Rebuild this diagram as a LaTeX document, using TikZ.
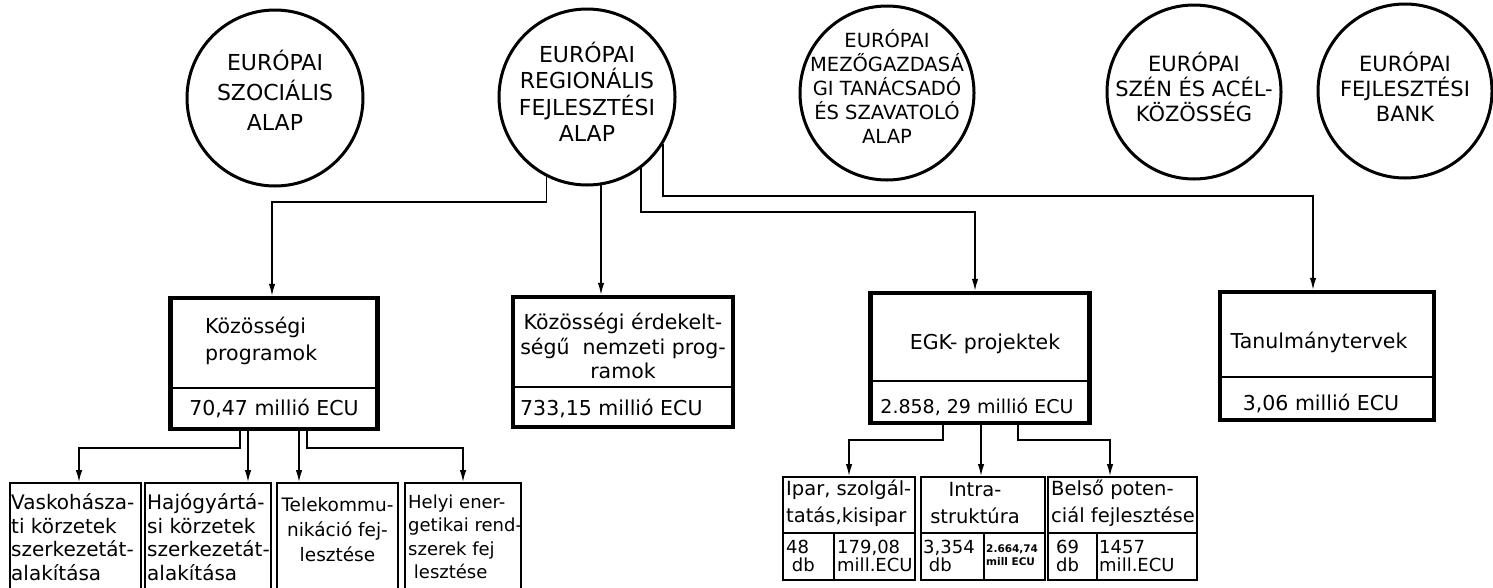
\documentclass[tikz,border=0pt]{standalone}
\usepackage{fontspec}
\setmainfont{DejaVu Sans}
\usetikzlibrary{arrows.meta}
\begin{document}
\begin{tikzpicture}[x=1pt,y=-1pt,
  fund/.style={draw, circle, line width=3pt, minimum size=176pt, inner sep=0pt},
  ctext/.style={align=center, inner sep=0pt},
  mainbox/.style={draw, line width=4.5pt, inner sep=0pt},
  smallbox/.style={draw, line width=2pt, inner sep=0pt, minimum height=112pt},
  rbox/.style={draw, line width=2pt, inner sep=0pt, minimum height=103pt},
  divider/.style={line width=1.5pt},
  conn/.style={draw, line width=1.4pt, -{Latex[length=12pt,width=6.5pt]}},
  btext/.style={inner sep=0pt, font=\fontsize{20.5}{27}\selectfont},
  stext/.style={inner sep=0pt, align=left},
  rtext/.style={inner sep=0pt, align=left, font=\fontsize{19.5}{27}\selectfont},
  ntext/.style={inner sep=0pt, align=left, font=\fontsize{18}{18.5}\selectfont},
]
\useasboundingbox (0,0) rectangle (1493,587);

% funds (circles)
\node[fund] (c1) at (275,98) {};
\node[fund] (c2) at (587,97) {};
\node[fund, minimum size=174pt] (c3) at (887,93) {};
\node[fund, minimum size=174pt] (c4) at (1194,92) {};
\node[fund, minimum size=174pt] (c5) at (1405,91) {};

\node[ctext, font=\fontsize{22}{30}\selectfont] (t1) at (275,90) {EURÓPAI\\SZOCIÁLIS\\ALAP};
\node[ctext, font=\fontsize{22}{26.5}\selectfont] (t2) at (587,92) {EURÓPAI\\REGIONÁLIS\\FEJLESZTÉSI\\ALAP};
\node[ctext, font=\fontsize{19.5}{24}\selectfont] (t3) at (887,86) {EURÓPAI\\MEZŐGAZDASÁ\\GI TANÁCSADÓ\\ÉS SZAVATOLÓ\\ALAP};
\node[ctext, font=\fontsize{21}{25}\selectfont] (t4) at (1194,87) {EURÓPAI\\SZÉN ÉS ACÉL-\\KÖZÖSSÉG};
\node[ctext, font=\fontsize{21}{25}\selectfont] (t5) at (1405,87) {EURÓPAI\\FEJLESZTÉSI\\BANK};

% main boxes
\node[mainbox, minimum width=207pt, minimum height=131pt] (kp) at (274,363.5) {};
\draw[divider] (kp.west |- 0,388) -- (kp.east |- 0,388);
\node[btext, align=left, anchor=west] (kpt) at (205,341) {Közösségi\\programok};
\node[btext] (kpv) at (274,408) {70,47 millió ECU};

\node[mainbox, minimum width=220pt, minimum height=130pt] (ke) at (623,362) {};
\draw[divider] (ke.west |- 0,387) -- (ke.east |- 0,387);
\node[btext, align=center, font=\fontsize{20.5}{24.5}\selectfont] (ket) at (623,346) {Közösségi érdekelt-\\ségű\ \ nemzeti prog-\\ramok};
\node[btext, anchor=west] (kev) at (520,408) {733,15 millió ECU};

\node[mainbox, minimum width=219pt, minimum height=130pt] (egk) at (980,358) {};
\draw[divider] (egk.west |- 0,381) -- (egk.east |- 0,381);
\node[btext] (egkt) at (985,344) {EGK- projektek};
\node[btext, font=\fontsize{19}{24}\selectfont] (egkv) at (977,407) {2.858, 29 millió ECU};

\node[mainbox, minimum width=214pt, minimum height=128pt] (tan) at (1327,356) {};
\draw[divider] (tan.west |- 0,377) -- (tan.east |- 0,377);
\node[btext] (tant) at (1319,342) {Tanulmánytervek};
\node[btext] (tanv) at (1321,403) {3,06 millió ECU};

% bottom-left boxes (cut off by the lower edge)
\node[smallbox, minimum width=131pt] (b1) at (75,539) {};
\node[smallbox, minimum width=126pt] (b2) at (208,539) {};
\node[smallbox, minimum width=121pt] (b3) at (337.5,539) {};
\node[smallbox, minimum width=116pt] (b4) at (463,539) {};
\node[stext, anchor=west, font=\fontsize{20}{23.5}\selectfont] (b1t) at (11,537) {Vaskohásza-\\ti körzetek\\szerkezetát-\\alakítása};
\node[stext, anchor=west, font=\fontsize{20}{23.5}\selectfont] (b2t) at (147,537) {Hajógyártá-\\si körzetek\\szerkezetát-\\alakítása};
\node[stext, align=center, font=\fontsize{18.5}{25}\selectfont] (b3t) at (337.5,530) {Telekommu-\\nikáció fej-\\lesztése};
\node[stext, anchor=west, font=\fontsize{18}{23.5}\selectfont] (b4t) at (408,537) {Helyi ener-\\getikai rend-\\szerek fej\\\ lesztése};

% bottom-right boxes
\node[rbox, minimum width=132pt] (ba) at (849,528.5) {};
\node[rbox, minimum width=124pt] (bb) at (983,528.5) {};
\node[rbox, minimum width=149pt] (bc) at (1122.5,528.5) {};
\draw[divider] (ba.west |- 0,533) -- (ba.east |- 0,533);
\draw[divider] (bb.west |- 0,533) -- (bb.east |- 0,533);
\draw[divider] (bc.west |- 0,533) -- (bc.east |- 0,533);
\draw[divider] (ba.south -| 834,0) -- (834,533);
\draw[divider] (bb.south -| 984,0) -- (984,533);
\draw[divider] (bc.south -| 1097,0) -- (1097,533);

\node[rtext, anchor=west] (bat) at (786,503) {Ipar, szolgál-\\tatás,kisipar};
\node[rtext, align=center] (bbt) at (975,503) {Intra-\\struktúra};
\node[rtext, anchor=west] (bct) at (1051,503) {Belső poten-\\ciál fejlesztése};
\node[ntext, anchor=west] (ban) at (786,556) {48\\\ db};
\node[ntext, anchor=west] (bav) at (837,556) {179,08\\mill.ECU};
\node[ntext, anchor=west] (bbn) at (923,556) {3,354\\\ db};
\node[inner sep=0pt, align=left, anchor=west, font=\bfseries\fontsize{10.5}{13}\selectfont] (bbv) at (986,555) {2.664,74\\mill ECU};
\node[ntext, anchor=west] (bcn) at (1056,556) {69\\db};
\node[ntext, anchor=west] (bcv) at (1099,556) {1457\\mill.ECU};

% connectors from ERFA
\coordinate (h1) at (272,202);
\coordinate (h3) at (975,212);
\coordinate (h4) at (1313,196);
\draw[conn] (c2.243) |- (h1) -- (h1 |- kp.north);
\draw[conn] (c2.279) -- (c2.279 |- ke.north);
\draw[conn] (c2.307) |- (h3) -- (h3 |- egk.north);
\draw[conn] (c2.328) |- (h4) -- (h4 |- tan.north);

% connectors to bottom-left boxes
\coordinate (l1) at (79,448);
\coordinate (l4) at (b4.north |- 0,448);
\draw[conn] (kp.south -| 240,0) |- (l1) -- (l1 |- b1.north);
\draw[conn] (kp.south -| 248,0) -- (b2.north -| 248,0);
\draw[conn] (kp.south -| 299,0) -- (b3.north -| 299,0);
\draw[conn] (kp.south -| 307,0) |- (l4) -- (b4.north);

% connectors to bottom-right boxes
\coordinate (r1) at (ba.north |- 0,440);
\coordinate (r3) at (1110,440);
\draw[conn] (egk.south -| 943,0) |- (r1) -- (ba.north);
\draw[conn] (egk.south -| 981,0) -- (bb.north -| 981,0);
\draw[conn] (egk.south -| 1018,0) |- (r3) -- (r3 |- bc.north);
\end{tikzpicture}
\end{document}
